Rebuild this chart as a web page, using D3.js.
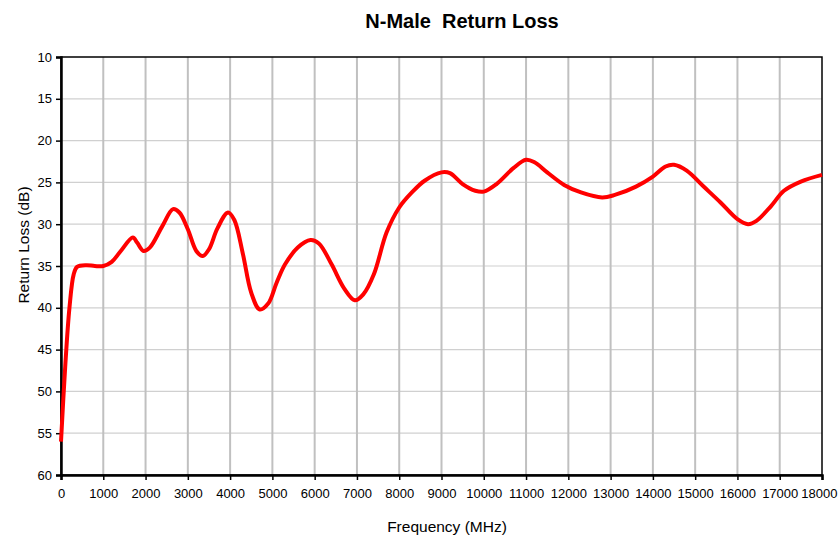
<!DOCTYPE html>
<html>
<head>
<meta charset="utf-8">
<script src="https://cdn.jsdelivr.net/npm/d3@7"></script>
<style>
  html, body { margin: 0; padding: 0; background: #fff; }
  svg { display: block; font-family: "Liberation Sans", Arial, sans-serif; }
</style>
</head>
<body>
<svg id="chart" width="838" height="536"></svg>
<script>
'use strict';

// Return loss of an N-male connector
var FREQ = [0, 100, 200, 300, 380, 600, 800, 1000, 1200, 1400, 1700, 1800, 1950, 2100, 2400, 2650, 2800, 3000,
  3200, 3350, 3500, 3700, 3950, 4100, 4300, 4500, 4700, 4900, 5100, 5300, 5600, 5900, 6100, 6400, 6700, 6950,
  7150, 7400, 7700, 8000, 8300, 8600, 9000, 9200, 9500, 9800, 10000, 10300, 10700, 11000, 11200, 11500, 11900,
  12300, 12800, 13100, 13600, 14000, 14300, 14500, 14800, 15200, 15600, 16000, 16250, 16450, 16800, 17100,
  17500, 18000];
var LOSS = [56, 47, 40, 36, 35.1, 34.9, 35.0, 35.0, 34.5, 33.3, 31.6, 32.2, 33.2, 32.8, 30.2, 28.2, 28.6, 30.6,
  33.2, 33.8, 33.0, 30.5, 28.6, 29.5, 33.5, 38.2, 40.2, 39.5, 37.0, 34.8, 32.8, 31.9, 32.3, 34.8, 37.7, 39.1,
  38.4, 36.0, 31.0, 28.0, 26.2, 24.8, 23.8, 23.9, 25.2, 26.0, 26.1, 25.2, 23.3, 22.3, 22.6, 23.8, 25.3,
  26.2, 26.8, 26.5, 25.5, 24.3, 23.1, 22.9, 23.6, 25.5, 27.4, 29.4, 30.0, 29.6, 27.8, 26.0,
  24.9, 24.1];
var X_TICKS = d3.range(0, 18001, 1000);
var Y_TICKS = d3.range(10, 61, 5);

var margin = { left: 61, top: 57, right: 838 - 822, bottom: 536 - 475 };
var width = 838, height = 536;

var svg = d3.select('#chart');
var x = d3.scaleLinear().domain([0, 18000]).range([margin.left, width - margin.right]);
var y = d3.scaleLinear().domain([10, 60]).range([margin.top, height - margin.bottom]);

// grid
svg.append('g').selectAll('line').data(Y_TICKS.slice(1, -1)).join('line')
  .attr('x1', x(0)).attr('x2', x(18000))
  .attr('y1', function (d) { return y(d); }).attr('y2', function (d) { return y(d); })
  .attr('stroke', '#d0d0d0').attr('stroke-width', 1.2);
svg.append('g').selectAll('line').data(X_TICKS.slice(1, -1)).join('line')
  .attr('y1', y(10)).attr('y2', y(60))
  .attr('x1', function (d) { return x(d); }).attr('x2', function (d) { return x(d); })
  .attr('stroke', '#c0c0c0').attr('stroke-width', 2);

// frame
svg.append('rect')
  .attr('x', x(0)).attr('y', y(10))
  .attr('width', x(18000) - x(0)).attr('height', y(60) - y(10))
  .attr('fill', 'none').attr('stroke', '#000').attr('stroke-width', 1.5);

var xAxis = svg.append('g')
  .attr('transform', 'translate(0,' + y(60) + ')')
  .call(d3.axisBottom(x).tickValues(X_TICKS).tickSize(5).tickPadding(9).tickFormat(d3.format('d')));
var yAxis = svg.append('g')
  .attr('transform', 'translate(' + x(0) + ',0)')
  .call(d3.axisLeft(y).tickValues(Y_TICKS).tickSize(5).tickPadding(4).tickFormat(d3.format('d')));
[xAxis, yAxis].forEach(function (g) {
  g.select('.domain').attr('stroke', '#000').attr('stroke-width', 2.5);
  g.selectAll('.tick line').attr('stroke', '#000').attr('stroke-width', 1.5);
  g.selectAll('.tick text').attr('fill', '#000').style('font-size', '13px')
    .style('font-family', '"Liberation Sans", Arial, sans-serif');
});
// last label runs past the window edge; pull it in just enough to fit
xAxis.selectAll('.tick text').filter(function (d) { return d === 18000; })
  .attr('text-anchor', 'end').attr('x', 838 - x(18000) - 1);

// curve
var line = d3.line()
  .x(function (d, i) { return x(FREQ[i]); })
  .y(function (d) { return y(d); })
  .curve(d3.curveCatmullRom.alpha(0.5));
svg.append('path')
  .datum(LOSS)
  .attr('d', line)
  .attr('fill', 'none')
  .attr('stroke', '#ff0000')
  .attr('stroke-width', 4)
  .attr('stroke-linejoin', 'round')
  .attr('stroke-linecap', 'butt');

// text
svg.append('text')
  .attr('x', 462).attr('y', 28)
  .attr('text-anchor', 'middle')
  .style('font-size', '20px').style('font-weight', 'bold')
  .attr('xml:space', 'preserve')
  .text('N-Male  Return Loss');
svg.append('text')
  .attr('x', 447).attr('y', 532)
  .attr('text-anchor', 'middle')
  .style('font-size', '15.5px')
  .text('Frequency (MHz)');
svg.append('text')
  .attr('transform', 'translate(29,' + 245 + ') rotate(-90)')
  .attr('text-anchor', 'middle')
  .style('font-size', '15.5px')
  .text('Return Loss (dB)');
</script>
</body>
</html>
